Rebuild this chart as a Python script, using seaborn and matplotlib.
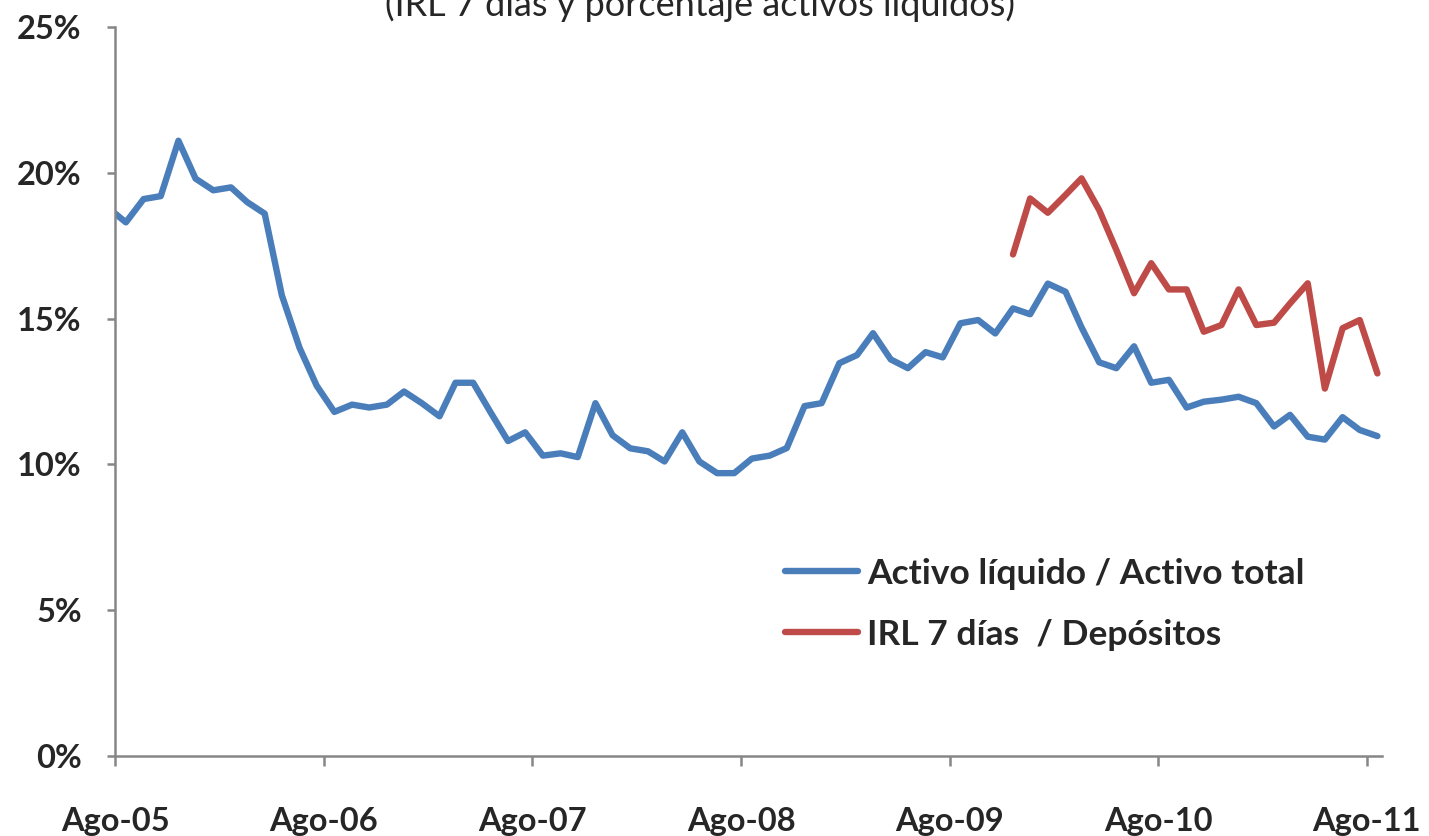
# Liquidez del sistema: activo liquido / activo total e IRL 7 dias / depositos
import numpy as np
import pandas as pd
import matplotlib
matplotlib.use("Agg")
import matplotlib.pyplot as plt
import seaborn as sns

# --- datos (porcentaje), mensuales de jul-05 a ago-11 ---
fechas = pd.date_range("2005-07-01", periods=74, freq="MS") + pd.Timedelta(days=19)

activo_liquido = [
    18.8, 18.3, 19.1, 19.2, 21.1, 19.8, 19.4, 19.5, 19.0, 18.6,
    15.8, 14.0, 12.7, 11.8, 12.05, 11.95, 12.05, 12.5, 12.1, 11.65,
    12.8, 12.8, 11.8, 10.8, 11.1, 10.3, 10.38, 10.25, 12.1, 11.0,
    10.55, 10.45, 10.1, 11.1, 10.1, 9.7, 9.7, 10.2, 10.3, 10.56,
    12.0, 12.1, 13.47, 13.75, 14.5, 13.6, 13.3, 13.85, 13.67, 14.84,
    14.95, 14.49, 15.35, 15.15, 16.2, 15.92, 14.7, 13.5, 13.3, 14.05,
    12.8, 12.9, 11.95, 12.15, 12.22, 12.32, 12.1, 11.3, 11.7, 10.95,
    10.85, 11.62, 11.18, 10.97,
]

irl_7dias = [np.nan] * 52 + [
    17.2, 19.12, 18.63, 19.24, 19.81, 18.72, 17.35, 15.87, 16.9, 16.0,
    16.0, 14.55, 14.78, 16.0, 14.78, 14.86, 15.52, 16.21, 12.6, 14.67,
    14.95, 13.12,
]

series = ["Activo líquido / Activo total", "IRL 7 días  / Depósitos"]
colores = ["#4A7EBB", "#BE4B48"]

ticks_x = pd.date_range("2005-08-01", periods=7, freq="12MS")
etiquetas_x = ["Ago-05", "Ago-06", "Ago-07", "Ago-08", "Ago-09", "Ago-10", "Ago-11"]
ticks_y = [0, 5, 10, 15, 20, 25]
etiquetas_y = ["0%", "5%", "10%", "15%", "20%", "25%"]

titulo = "(IRL 7 días y porcentaje activos líquidos)"

# formato largo para seaborn
df = pd.concat([
    pd.DataFrame({"fecha": fechas, "valor": activo_liquido, "serie": series[0]}),
    pd.DataFrame({"fecha": fechas, "valor": irl_7dias, "serie": series[1]}),
]).dropna()

# =============================================================================
sns.set_style("white")
plt.rcParams["font.family"] = ["Lato", "DejaVu Sans"]

fig = plt.figure(figsize=(14.29, 8.36), dpi=100)
ax = fig.add_axes([0.0805, 0.0957, 0.8866, 0.872])

sns.lineplot(data=df, x="fecha", y="valor", hue="serie", hue_order=series,
             palette=colores, linewidth=4.6, ax=ax, sort=False)

ax.set_xlim(pd.Timestamp("2005-08-01"), pd.Timestamp("2011-08-28"))
ax.set_ylim(0, 25)
ax.set_xticks(ticks_x)
ax.set_xticklabels(etiquetas_x, fontsize=23.5, fontweight="bold")
ax.set_yticks(ticks_y)
ax.set_yticklabels(etiquetas_y, fontsize=23.5, fontweight="bold")
ax.set_xlabel("")
ax.set_ylabel("")

for lado in ["top", "right"]:
    ax.spines[lado].set_visible(False)
for lado in ["left", "bottom"]:
    ax.spines[lado].set_color("#868686")
    ax.spines[lado].set_linewidth(1.8)

ax.tick_params(axis="x", direction="out", length=7.5, width=1.8, color="#868686",
               pad=29, bottom=True)
ax.tick_params(axis="y", direction="out", length=6, width=1.8, color="#868686",
               pad=18, left=True)

handles, labels = ax.get_legend_handles_labels()
ax.legend(handles, labels, loc="upper left", bbox_to_anchor=(0.529, 0.272),
          frameon=False, prop={"size": 25.5, "weight": "bold"},
          handlelength=2.05, handletextpad=0.26, labelspacing=0.82,
          borderaxespad=0, borderpad=0)

fig.text(0.49, 0.981, titulo, ha="center", va="baseline", fontsize=26)

fig.savefig("out.png", dpi=100)
